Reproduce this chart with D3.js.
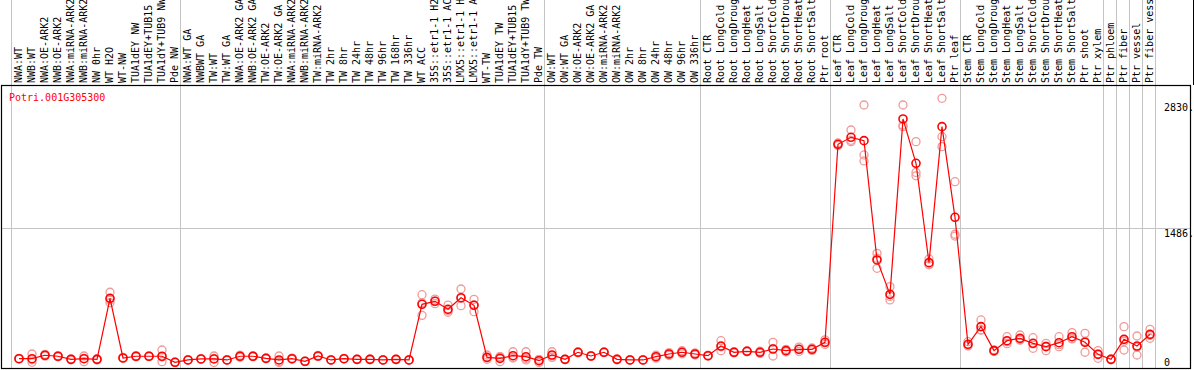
<!DOCTYPE html>
<html>
<head>
<meta charset="utf-8">
<script src="https://cdn.jsdelivr.net/npm/d3@7"></script>
<style>
  body { margin: 0; background: #fff; }
  text { font-family: "DejaVu Sans Mono", monospace; font-size: 10px; }
</style>
</head>
<body>
<svg id="chart"></svg>
<script>
const geneId = "Potri.001G305300";

const sampleLabels = [
    "NWA:WT", "NWB:WT", "NWA:OE-ARK2", "NWB:OE-ARK2", "NWA:miRNA-ARK2", "NWB:miRNA-ARK2",
    "NW 0hr", "WT H2O", "WT-NW", "TUA1dEY NW", "TUA1dEY+TUB15", "TUA1dY+TUB9 NW", "Pde NW",
    "NWA:WT GA", "NWBWT GA", "TW:WT", "TW:WT GA", "NWA:OE-ARK2 GA", "NWB:OE-ARK2 GA",
    "TW:OE-ARK2", "TW:OE-ARK2 GA", "NWA:miRNA-ARK2", "NWB:miRNA-ARK2", "TW:miRNA-ARK2",
    "TW 2hr", "TW 8hr", "TW 24hr", "TW 48hr", "TW 96hr", "TW 168hr", "TW 336hr", "WT ACC",
    "35S::etr1-1 H2O", "35S::etr1-1 ACC", "LMX5::etr1-1 H2O", "LMX5::etr1-1 ACC",
    "WT-TW", "TUA1dEY TW", "TUA1dEY+TUB15", "TUA1dY+TUB9 TW", "Pde TW",
    "OW:WT", "OW:WT GA", "OW:OE-ARK2", "OW:OE-ARK2 GA", "OW:miRNA-ARK2", "OW:miRNA-ARK2",
    "OW 2hr", "OW 8hr", "OW 24hr", "OW 48hr", "OW 96hr", "OW 336hr",
    "Root CTR", "Root LongCold", "Root LongDrought", "Root LongHeat", "Root LongSalt",
    "Root ShortCold", "Root ShortDrought", "Root ShortHeat", "Root ShortSalt", "Ptr root",
    "Leaf CTR", "Leaf LongCold", "Leaf LongDrought", "Leaf LongHeat", "Leaf LongSalt",
    "Leaf ShortCold", "Leaf ShortDrought", "Leaf ShortHeat", "Leaf ShortSalt", "Ptr leaf",
    "Stem CTR", "Stem LongCold", "Stem LongDrought", "Stem LongHeat", "Stem LongSalt",
    "Stem ShortCold", "Stem ShortDrought", "Stem ShortHeat", "Stem ShortSalt", "Ptr shoot",
    "Ptr xylem", "Ptr phloem", "Ptr fiber", "Ptr vessel", "Ptr fiber vessel"
];

const meanValues = [
    42, 42, 80, 69, 35, 42, 35, 709, 50, 69, 69, 69, 2,
    28, 39, 39, 28, 69, 69, 46, 28, 42, 13, 72, 28, 42, 35, 35, 28, 35, 28,
    643, 676, 588, 716, 632, 57, 46, 75, 64, 20,
    83, 35, 113, 72, 113, 35, 28, 28, 64, 94, 113, 94,
    75, 182, 113, 124, 113, 149, 131, 146, 146, 223,
    2411, 2488, 2451, 1133, 753, 2691, 2201, 1103, 2606, 1604,
    201, 396, 131, 241, 267, 212, 175, 219, 285, 223,
    90, 35, 256, 182, 311
];

const replicateValues = [
    [40, 45, 42], [94, 30, 2], [80, 90, 70], [69, 75, 63], [35, 30, 40], [72, 9, 45],
    [35, 28, 42], [776, 691, 660], [50, 45, 55], [69, 75, 63], [69, 72, 66], [138, 9, 60], [2, 5, 0],
    [28, 25, 31], [39, 42, 36], [72, 0, 45], [28, 25, 31], [69, 80, 58], [69, 75, 63],
    [46, 50, 42], [72, 0, 12], [42, 48, 36], [13, 10, 16], [72, 78, 66], [28, 25, 31],
    [42, 45, 39], [35, 38, 32], [35, 30, 40], [28, 25, 31], [35, 38, 32], [28, 25, 31],
    [749, 521, 659], [700, 650, 678], [635, 555, 574], [812, 628, 708], [698, 561, 637],
    [83, 35, 53], [64, 9, 65], [119, 57, 49], [119, 28, 45], [35, 0, 25],
    [119, 57, 73], [35, 32, 38], [113, 118, 108], [72, 70, 74], [113, 110, 116], [35, 30, 40],
    [28, 31, 25], [28, 30, 26], [64, 80, 48], [94, 110, 78], [113, 130, 96], [94, 105, 83],
    [75, 80, 70], [241, 131, 174], [113, 120, 106], [124, 130, 118], [113, 125, 101],
    [223, 72, 152], [131, 145, 117], [146, 170, 122], [146, 160, 132], [250, 200, 219],
    [2396, 2411, 2426], [2569, 2440, 2455], [2845, 2293, 2227], [1206, 1041, 1152],
    [838, 691, 730], [2845, 2606, 2622], [2440, 2100, 2063], [1144, 1080, 1085],
    [2919, 2495, 2385], [1998, 1417, 1397],
    [230, 190, 183], [470, 359, 359], [131, 140, 122], [285, 230, 208], [304, 249, 248],
    [274, 157, 205], [212, 131, 182], [285, 175, 197], [330, 265, 260], [322, 113, 234],
    [131, 46, 93], [35, 30, 40], [396, 138, 234], [293, 83, 170], [367, 267, 299]
];

// index of the last sample before each grey separator (-1 = left edge)
const groupBreaks = [-1, 12, 40, 52, 62, 72, 83, 84, 85, 86, 87];

const yTicks = [0, 1486, 2830];
const yTickLabels = ["0", "1486.", "2830."];

const WIDTH = 1194, HEIGHT = 370;
const plotTop = 85, plotBottom = 368, plotLeft = 1, plotRight = 1190;

const svg = d3.select("#chart")
    .attr("width", WIDTH)
    .attr("height", HEIGHT);

const x = d3.scaleLinear()
    .domain([0, sampleLabels.length - 1])
    .range([19, 1150]);

const y = d3.scaleLinear()
    .domain([0, 3066])
    .range([362.5, plotTop]);

// grey separators between sample groups
svg.selectAll("line.sep")
    .data(groupBreaks)
    .enter()
    .append("line")
    .attr("class", "sep")
    .attr("x1", d => x(d) + 5.5)
    .attr("x2", d => x(d) + 5.5)
    .attr("y1", 0)
    .attr("y2", plotBottom)
    .style("stroke", "#c4c4c4")
    .style("stroke-width", 1);

// horizontal grid line at the middle tick
svg.append("line")
    .attr("x1", plotLeft)
    .attr("x2", plotRight)
    .attr("y1", Math.round(y(yTicks[1])) + 0.5)
    .attr("y2", Math.round(y(yTicks[1])) + 0.5)
    .style("stroke", "#c4c4c4");

// frame
svg.append("rect")
    .attr("x", plotLeft + 0.5)
    .attr("y", plotTop + 0.5)
    .attr("width", plotRight - plotLeft)
    .attr("height", plotBottom - plotTop)
    .style("fill", "none")
    .style("stroke", "black")
    .style("stroke-width", 1.2);

svg.append("line")
    .attr("x1", 1193.5).attr("x2", 1193.5)
    .attr("y1", 0).attr("y2", plotTop)
    .style("stroke", "black");

// rotated sample names, cut to 14 characters like the original
svg.selectAll("text.sample")
    .data(sampleLabels)
    .enter()
    .append("text")
    .attr("class", "sample")
    .attr("transform", (d, i) => `translate(${x(i) + 3},83) rotate(-90)`)
    .style("fill", "black")
    .text(d => d.slice(0, 14));

svg.append("text")
    .attr("x", 9)
    .attr("y", 101)
    .style("fill", "red")
    .text(geneId);

// y tick labels on the right
const tickShift = [3.5, 9, 4.5];
svg.selectAll("text.tick")
    .data(yTicks)
    .enter()
    .append("text")
    .attr("class", "tick")
    .attr("x", 1164)
    .attr("y", (d, i) => y(d) + tickShift[i])
    .style("fill", "black")
    .text((d, i) => yTickLabels[i]);

// replicate circles
const reps = replicateValues.flatMap((vals, i) => vals.map(v => [i, v]));
svg.selectAll("circle.rep")
    .data(reps)
    .enter()
    .append("circle")
    .attr("class", "rep")
    .attr("cx", d => x(d[0]))
    .attr("cy", d => y(d[1]))
    .attr("r", 4)
    .style("fill", "none")
    .style("stroke", "#f09a9a")
    .style("stroke-width", 1.3);

const line = d3.line()
    .x((d, i) => x(i))
    .y(d => y(d));

svg.append("path")
    .datum(meanValues)
    .attr("d", line)
    .style("fill", "none")
    .style("stroke", "red")
    .style("stroke-width", 1.2);

svg.selectAll("circle.mean")
    .data(meanValues)
    .enter()
    .append("circle")
    .attr("class", "mean")
    .attr("cx", (d, i) => x(i))
    .attr("cy", d => y(d))
    .attr("r", 4)
    .style("fill", "none")
    .style("stroke", "red")
    .style("stroke-width", 1.6);
</script>
</body>
</html>
